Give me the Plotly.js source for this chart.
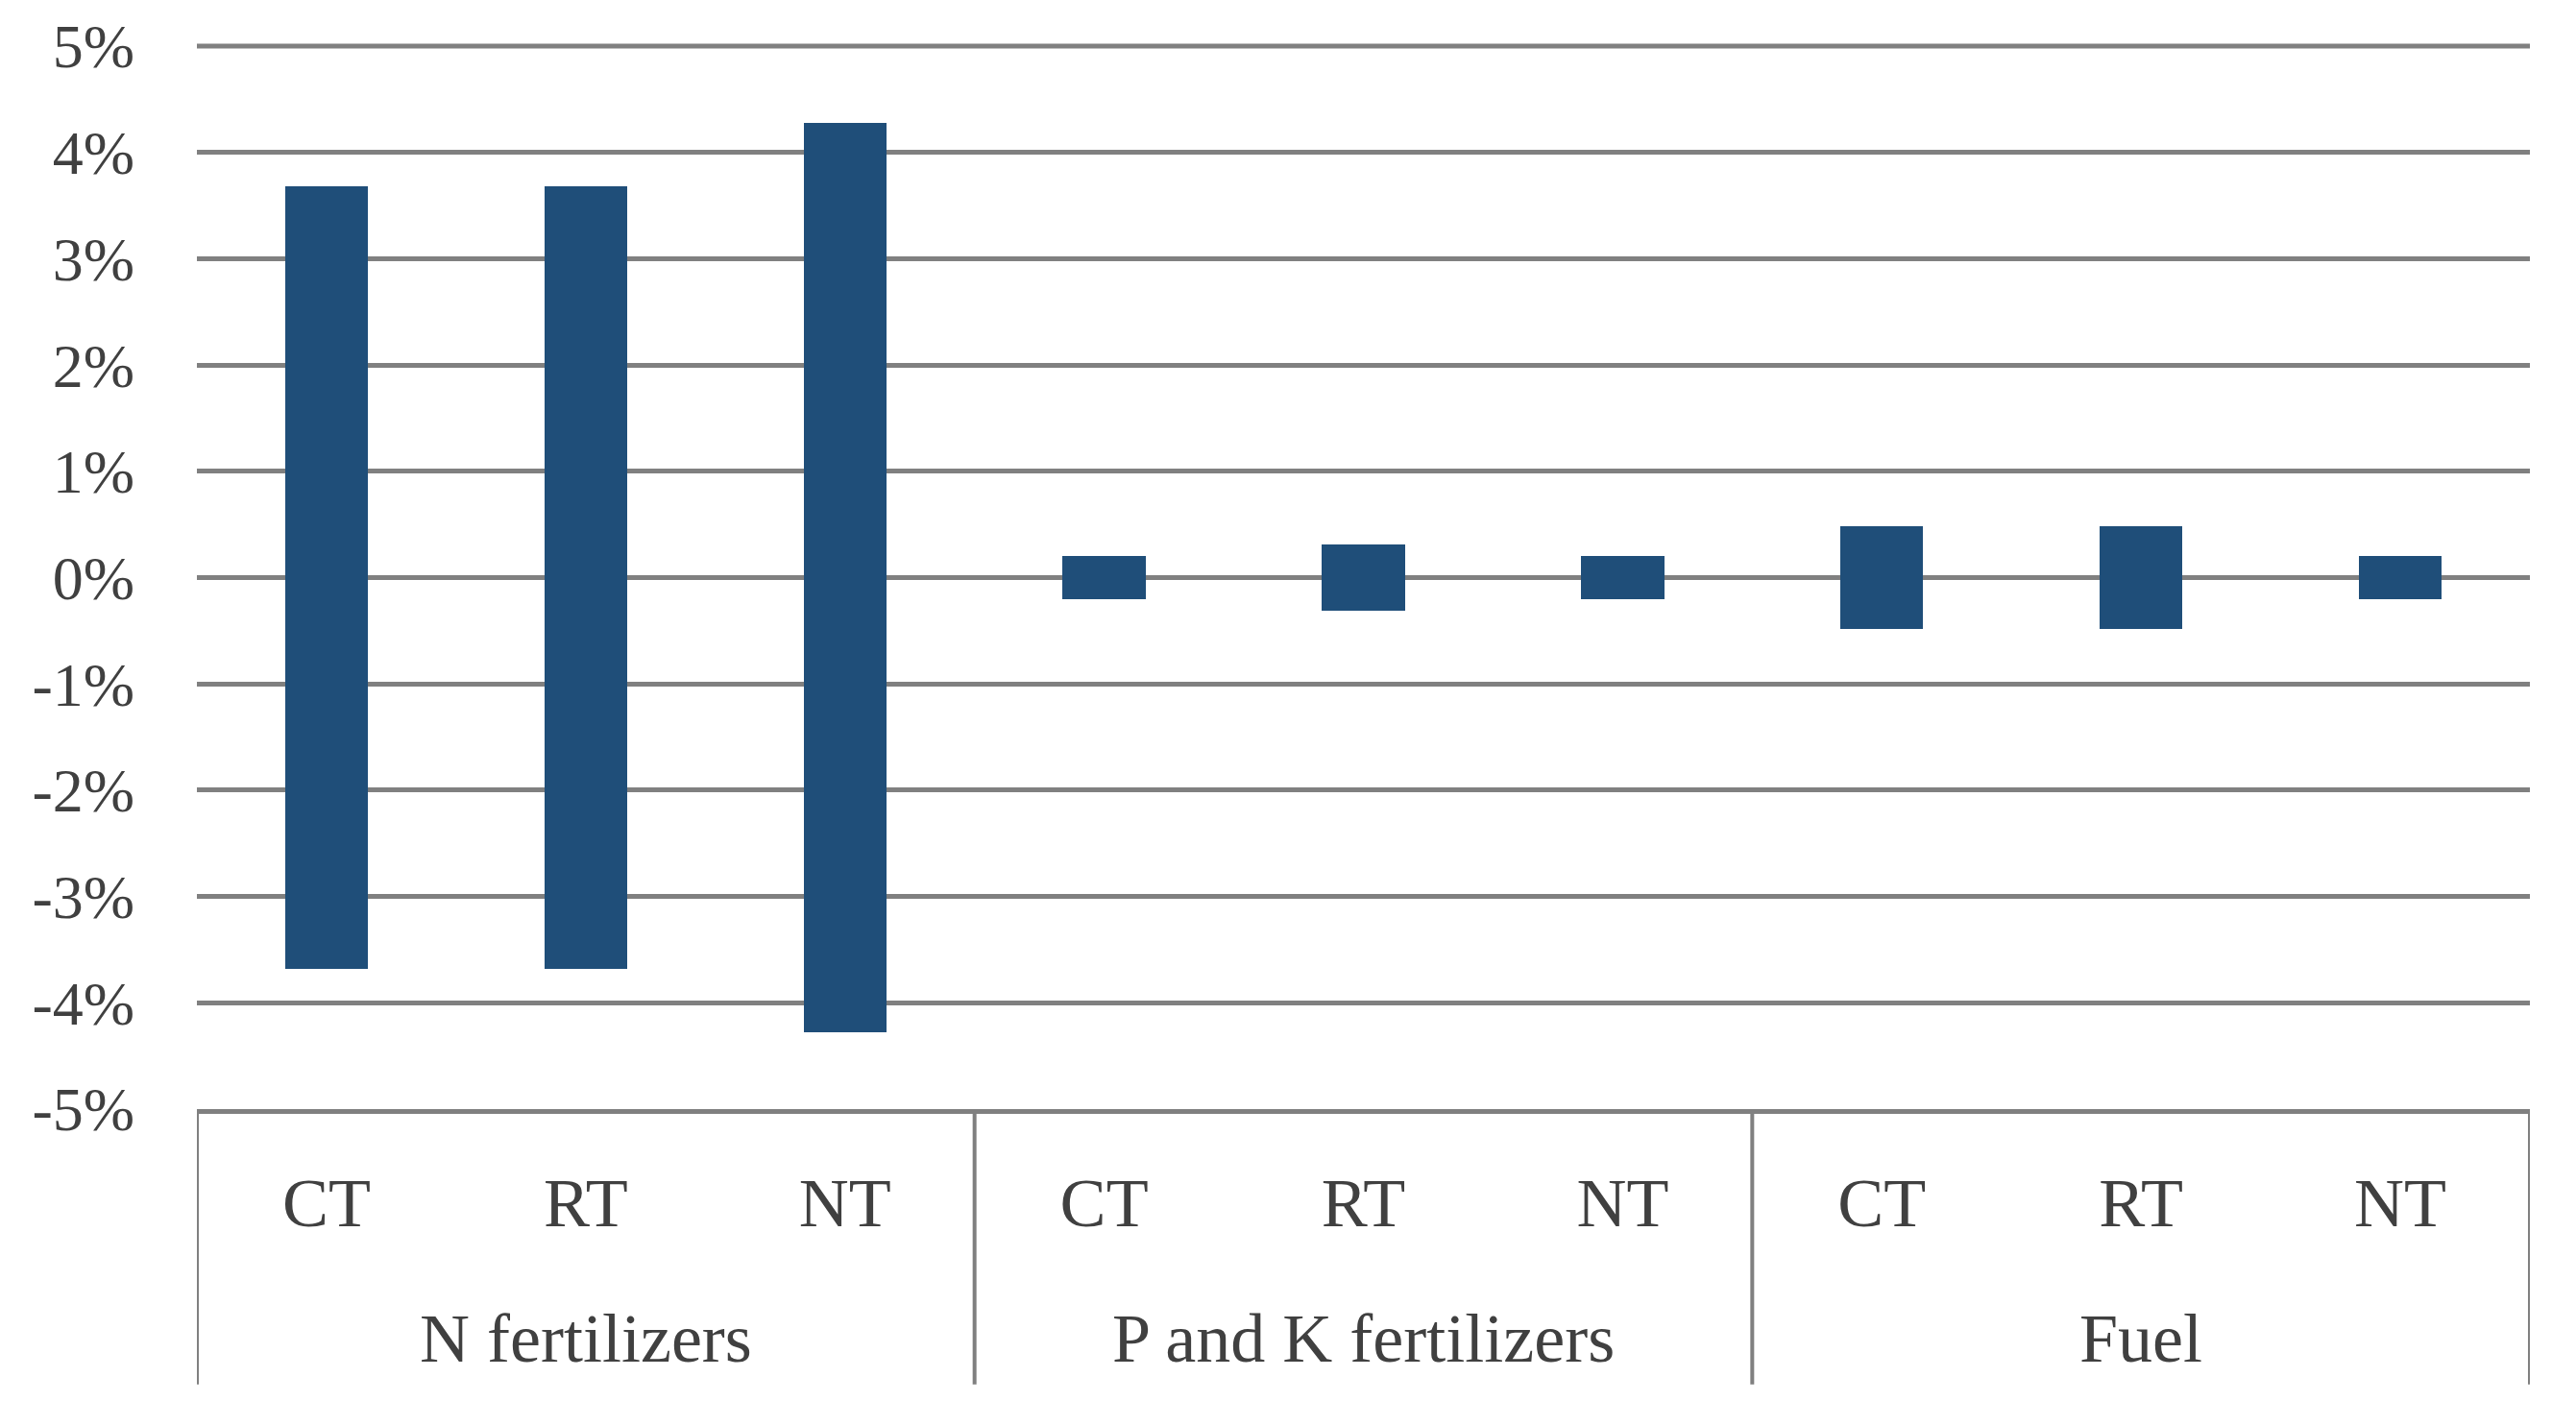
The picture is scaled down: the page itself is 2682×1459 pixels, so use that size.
<!DOCTYPE html>
<html>
<head>
<meta charset="utf-8">
<script src="https://cdn.plot.ly/plotly-3.0.1.min.js"></script>
<style>html,body{margin:0;padding:0;background:#fff;}#chart{width:2682px;height:1459px;}</style>
</head>
<body>
<div id="chart"></div>
<script>
// Data (percent, symmetric range ±value)
const groups = ['N fertilizers', 'P and K fertilizers', 'Fuel'];
const methods = ['CT', 'RT', 'NT'];
const nFertilizers = [3.68, 3.68, 4.28];
const pkFertilizers = [0.20, 0.31, 0.20];
const fuel = [0.48, 0.48, 0.20];
const yTickVals = [-5, -4, -3, -2, -1, 0, 1, 2, 3, 4, 5];
const yTickText = ['-5%', '-4%', '-3%', '-2%', '-1%', '0%', '1%', '2%', '3%', '4%', '5%'];

const series = [nFertilizers, pkFertilizers, fuel];
const cats = [], vals = [], catText = [];
groups.forEach((g, gi) => {
  methods.forEach((m, mi) => {
    cats.push(g + '|' + m);
    catText.push(m);
    vals.push(series[gi][mi]);
  });
});

const barColor = '#1F4E79';
const gridColor = '#808080';
const textColor = '#404040';
const fontFam = '"Liberation Serif", "DejaVu Serif", serif';

const trace = {
  type: 'bar',
  x: cats,
  y: vals.map(v => 2 * v),
  base: vals.map(v => -v),
  width: 0.32,
  marker: {color: barColor, line: {width: 0}},
  hoverinfo: 'skip'
};

const annotations = groups.map(g => ({
  xref: 'x', yref: 'paper',
  x: g + '|' + methods[1], y: -0.216,
  text: g, showarrow: false,
  xanchor: 'center', yanchor: 'middle',
  font: {family: fontFam, size: 72, color: textColor}
}));

const shapes = [];
for (let k = 0; k <= groups.length; k++) {
  shapes.push({
    type: 'line', xref: 'x', yref: 'paper',
    x0: k * methods.length - 0.5, x1: k * methods.length - 0.5,
    y0: 0, y1: -0.259,
    line: {color: gridColor, width: 4}
  });
}
// top gridline at the upper end of the axis (plotly omits it at the edge)
shapes.push({
  type: 'line', xref: 'paper', yref: 'paper',
  x0: 0, x1: 1, y0: 1, y1: 1,
  line: {color: gridColor, width: 5}, layer: 'below'
});

const layout = {
  width: 2682, height: 1459,
  margin: {l: 205, r: 48, t: 48, b: 304},
  paper_bgcolor: '#ffffff', plot_bgcolor: '#ffffff',
  showlegend: false,
  bargap: 0,
  xaxis: {
    type: 'category',
    categoryorder: 'array', categoryarray: cats,
    tickvals: cats, ticktext: catText,
    range: [-0.5, cats.length - 0.5],
    showgrid: false, zeroline: false,
    showline: true, linecolor: gridColor, linewidth: 5,
    ticks: '',
    ticklabelstandoff: 31,
    tickfont: {family: fontFam, size: 72, color: textColor},
    fixedrange: true
  },
  yaxis: {
    range: [yTickVals[0], yTickVals[yTickVals.length - 1]],
    tickvals: yTickVals, ticktext: yTickText,
    showgrid: true, gridcolor: gridColor, gridwidth: 5,
    zeroline: false, showline: false,
    ticks: '',
    ticklabelstandoff: 64,
    tickfont: {family: fontFam, size: 64, color: textColor},
    fixedrange: true
  },
  annotations: annotations,
  shapes: shapes
};

Plotly.newPlot('chart', [trace], layout, {displayModeBar: false, staticPlot: true});
</script>
</body>
</html>
